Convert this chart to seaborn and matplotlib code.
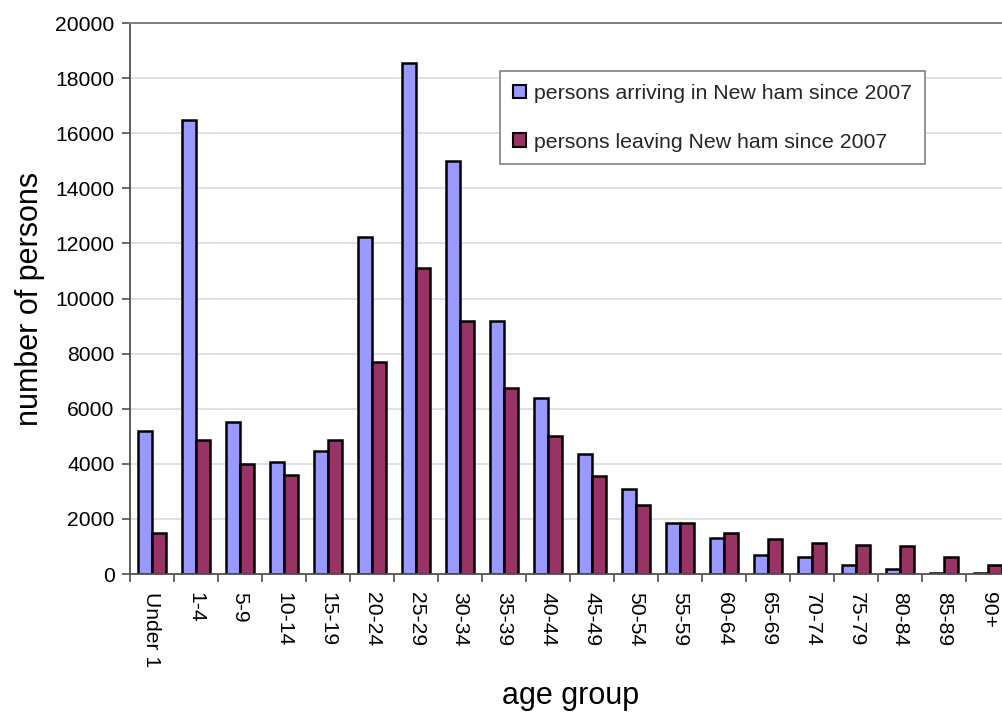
import numpy as np
import pandas as pd
import matplotlib
matplotlib.use("Agg")
import matplotlib.pyplot as plt
from matplotlib.patches import Patch
import seaborn as sns

# Age groups and counts of people moving in / out of Newham since 2007
age_groups = ["Under 1", "1-4", "5-9", "10-14", "15-19", "20-24", "25-29",
              "30-34", "35-39", "40-44", "45-49", "50-54", "55-59", "60-64",
              "65-69", "70-74", "75-79", "80-84", "85-89", "90+"]
arriving = [5200, 16480, 5500, 4050, 4470, 12240, 18560, 15000, 9200, 6380,
            4340, 3100, 1850, 1290, 700, 630, 340, 180, 50, 40]
leaving = [1500, 4850, 3980, 3600, 4850, 7700, 11100, 9200, 6750, 5000,
           3540, 2520, 1850, 1500, 1280, 1130, 1070, 1000, 620, 340]
series_names = ["persons arriving in New ham since 2007",
                "persons leaving New ham since 2007"]
series_colors = ["#9999FF", "#993366"]
y_ticks = list(range(0, 20001, 2000))

df = pd.DataFrame({
    "age group": age_groups * 2,
    "persons": arriving + leaving,
    "series": [series_names[0]] * len(age_groups) + [series_names[1]] * len(age_groups),
})

sns.set_theme(style="white")
plt.rcParams["font.family"] = ["Liberation Sans", "DejaVu Sans"]

W, H = 1003, 713
fig = plt.figure(figsize=(W / 100, H / 100), dpi=100)
ax = fig.add_axes([130 / W, (H - 574) / H, 880 / W, 551 / H])

sns.barplot(data=df, x="age group", y="persons", hue="series",
            order=age_groups, hue_order=series_names, palette=series_colors,
            width=0.62, edgecolor="black", linewidth=1.8, saturation=1,
            legend=False, ax=ax)

ax.set_xlim(-0.5, len(age_groups) - 0.5)
ax.set_ylim(0, 20000)
ax.set_yticks(y_ticks)
ax.set_yticklabels([str(v) for v in y_ticks])
ax.yaxis.grid(True, color="#D9D9D9", linewidth=1.1)
ax.set_axisbelow(True)

for side in ("left", "bottom"):
    ax.spines[side].set_color("#505050")
    ax.spines[side].set_linewidth(1.3)
ax.spines["top"].set_color("#808080")
ax.spines["top"].set_linewidth(1.4)
ax.spines["right"].set_color("#808080")

ax.tick_params(axis="y", which="major", left=True, length=6, width=1.2,
               color="#505050", labelsize=15.2, pad=5, labelcolor="black")
ax.set_xticks(range(len(age_groups)))
ax.set_xticklabels(age_groups, rotation=-90, ha="center", va="top")
ax.tick_params(axis="x", which="major", length=0, labelsize=15.2, pad=13,
               labelcolor="black")
ax.set_xticks(np.arange(-0.5, len(age_groups), 1), minor=True)
ax.tick_params(axis="x", which="minor", bottom=True, length=6, width=1.2,
               color="#505050")

ax.set_xlabel("age group", fontsize=22, color="black")
ax.xaxis.set_label_coords(0.501, -0.195)
ax.set_ylabel("number of persons", fontsize=22, color="black")
ax.yaxis.set_label_coords(-0.097, 0.5)

handles = [Patch(facecolor=c, edgecolor="black", linewidth=1.5) for c in series_colors]
leg = ax.legend(handles, series_names, loc="upper left",
                bbox_to_anchor=(500 / W, 1 - 71 / H), bbox_transform=fig.transFigure,
                fontsize=15.3, frameon=True, fancybox=False, framealpha=1,
                edgecolor="#808080", borderpad=0.6, labelspacing=1.4,
                handlelength=0.6, handleheight=0.6, handletextpad=0.4,
                borderaxespad=0)
leg.get_frame().set_linewidth(1.2)

fig.savefig("out.png", dpi=100)
